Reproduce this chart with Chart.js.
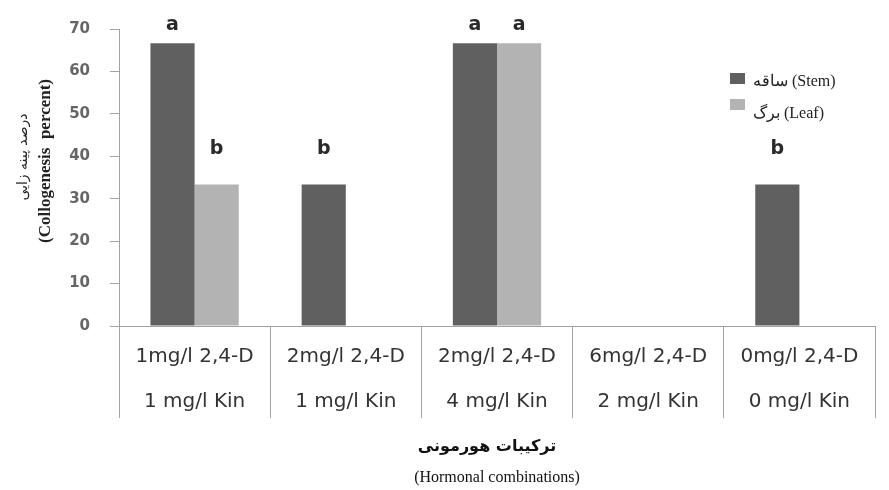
<!DOCTYPE html>
<html>
<head>
<meta charset="utf-8">
<script src="https://cdn.jsdelivr.net/npm/chart.js@4"></script>
<style>
  html, body { margin: 0; padding: 0; background: #fff; }
  #wrap { width: 889px; height: 490px; }
</style>
</head>
<body>
<div id="wrap"><canvas id="chart" width="889" height="490"></canvas></div>
<script>
// data
const categories = [
    ['1mg/l 2,4-D', '1 mg/l Kin'],
    ['2mg/l 2,4-D', '1 mg/l Kin'],
    ['2mg/l 2,4-D', '4 mg/l Kin'],
    ['6mg/l 2,4-D', '2 mg/l Kin'],
    ['0mg/l 2,4-D', '0 mg/l Kin']
];
const stemValues = [66.67, 33.33, 66.67, 0, 33.33];
const leafValues = [33.33, 0, 66.67, 0, 0];
const stemLetters = ['a', 'b', 'a', '', 'b'];
const leafLetters = ['b', '', 'a', '', ''];
const yTicks = [0, 10, 20, 30, 40, 50, 60, 70];

const axisGray = '#a3a3a3';

// letters above the bars
const letterPlugin = {
    id: 'letters',
    afterDatasetsDraw( chart ){
        const ctx = chart.ctx;
        const lift = { a: 18, b: 36 };
        ctx.save();
        ctx.font = 'bold 19px "DejaVu Sans"';
        ctx.fillStyle = '#2a2a2a';
        ctx.textAlign = 'center';
        ctx.textBaseline = 'middle';
        chart.data.datasets.forEach( function( ds, di ){
            const meta = chart.getDatasetMeta( di );
            meta.data.forEach( function( bar, i ){
                const letter = ds.letters[i];
                if ( !letter ) return;
                ctx.fillText( letter, bar.x, bar.y - lift[letter] );
            } );
        } );
        ctx.restore();
    }
};

// legend and axis titles
const textPlugin = {
    id: 'extraText',
    afterDraw( chart ){
        const ctx = chart.ctx;
        const area = chart.chartArea;
        ctx.save();

        // legend
        ctx.font = '16px "Liberation Serif"';
        ctx.textAlign = 'left';
        ctx.textBaseline = 'middle';
        chart.data.datasets.forEach( function( ds, i ){
            const y = 73 + i * 26;
            ctx.fillStyle = ds.backgroundColor;
            ctx.fillRect( 730, y, 15, 11 );
            ctx.fillStyle = '#222';
            ctx.fillText( ds.label, 753, y + 9 + i * 6 );
        } );

        // y title
        ctx.save();
        ctx.translate( 46, 161 );
        ctx.rotate( -Math.PI / 2 );
        ctx.textAlign = 'center';
        ctx.fillStyle = '#222';
        ctx.font = 'bold 17px "Liberation Serif"';
        ctx.fillText( '(Collogenesis  percent)', 0, 0 );
        ctx.font = '14px "DejaVu Sans"';
        ctx.fillText( 'درصد پینه زایی', 4, -23 );
        ctx.restore();

        // x title
        const cx = ( area.left + area.right ) / 2;
        ctx.textAlign = 'center';
        ctx.fillStyle = '#111';
        ctx.font = 'bold 16px "DejaVu Sans"';
        ctx.fillText( 'ترکیبات هورمونی', cx - 10, 447 );
        ctx.font = '16px "Liberation Serif"';
        ctx.fillText( '(Hormonal combinations)', cx, 478 );

        ctx.restore();
    }
};

const data = {
    labels: categories,
    datasets: [
        {
            label: 'ساقه (Stem)',
            data: stemValues,
            letters: stemLetters,
            backgroundColor: '#606060',
            borderWidth: 0
        },
        {
            label: 'برگ (Leaf)',
            data: leafValues,
            letters: leafLetters,
            backgroundColor: '#b3b3b3',
            borderWidth: 0
        }
    ]
};

const config = {
    type: 'bar',
    data: data,
    options: {
        responsive: false,
        animation: false,
        layout: {
            padding: { left: 0, right: 14, top: 25, bottom: 0 }
        },
        datasets: {
            bar: {
                categoryPercentage: 0.584,
                barPercentage: 1.0
            }
        },
        scales: {
            x: {
                grid: {
                    offset: true,
                    drawOnChartArea: false,
                    tickLength: 92,
                    color: axisGray
                },
                border: { color: axisGray, width: 1 },
                ticks: {
                    autoSkip: false,
                    maxRotation: 0,
                    padding: -83.5,
                    color: '#333',
                    font: { family: '"DejaVu Sans"', size: 20, lineHeight: 2.25 }
                },
                afterFit: function( scale ){
                    scale.height = 164;
                }
            },
            y: {
                min: 0,
                max: 70,
                afterBuildTicks: function( scale ){
                    scale.ticks = yTicks.map( function( v ){ return { value: v }; } );
                },
                grid: {
                    drawOnChartArea: false,
                    tickLength: 9,
                    color: axisGray
                },
                border: { color: axisGray, width: 1 },
                ticks: {
                    padding: 20,
                    color: '#666',
                    font: { family: '"DejaVu Sans"', size: 15, weight: 'bold' }
                },
                afterFit: function( scale ){
                    scale.width = 119;
                }
            }
        },
        plugins: {
            legend: { display: false },
            tooltip: { enabled: false }
        }
    },
    plugins: [ letterPlugin, textPlugin ]
};

new Chart( document.getElementById( 'chart' ), config );
</script>
</body>
</html>
